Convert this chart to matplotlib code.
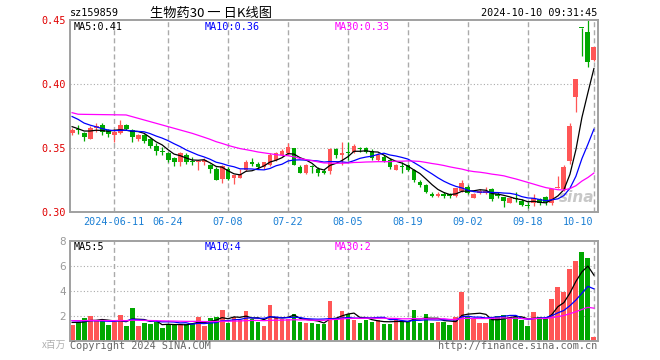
import numpy as np
import pandas as pd
import matplotlib
matplotlib.use('Agg')
import matplotlib.pyplot as plt

code = 'sz159859'
title = '生物药30 一 日K线图'
stamp = '2024-10-10 09:31:45'

# trading days shown (2024-05-30 .. 2024-10-10), exchange holidays removed
holidays = ['2024-06-10', '2024-09-16', '2024-09-17', '2024-10-01', '2024-10-02',
            '2024-10-03', '2024-10-04', '2024-10-07']
tick_dates = ['2024-06-11', '2024-06-24', '2024-07-08', '2024-07-22', '2024-08-05',
              '2024-08-19', '2024-09-02', '2024-09-18', '2024-10-10']
tick_labels = ['2024-06-11', '06-24', '07-08', '07-22', '08-05', '08-19', '09-02', '09-18', '10-10']

opens = [
    0.362, 0.365, 0.362, 0.357, 0.366, 0.368, 0.364, 0.360, 0.362, 0.368,
    0.364, 0.357, 0.360, 0.357, 0.352, 0.348, 0.346, 0.342, 0.339, 0.345,
    0.340, 0.339, 0.339, 0.337, 0.334, 0.326, 0.334, 0.327, 0.327, 0.333,
    0.339, 0.338, 0.335, 0.337, 0.341, 0.345, 0.346, 0.350, 0.335, 0.331,
    0.336, 0.334, 0.332, 0.332, 0.349, 0.345, 0.347, 0.347, 0.350, 0.350,
    0.348, 0.341, 0.343, 0.341, 0.333, 0.336, 0.337, 0.333, 0.324, 0.321,
    0.314, 0.313, 0.314, 0.314, 0.313, 0.317, 0.320, 0.311, 0.315, 0.315,
    0.318, 0.314, 0.312, 0.307, 0.311, 0.309, 0.306, 0.307, 0.310, 0.312,
    0.307, 0.319, 0.318, 0.340, 0.390, 0.444, 0.441, 0.419]
closes = [
    0.364, 0.364, 0.359, 0.366, 0.367, 0.363, 0.361, 0.363, 0.368, 0.365,
    0.359, 0.360, 0.356, 0.352, 0.348, 0.347, 0.341, 0.339, 0.346, 0.339,
    0.339, 0.340, 0.341, 0.334, 0.325, 0.336, 0.326, 0.329, 0.330, 0.339,
    0.338, 0.335, 0.339, 0.345, 0.346, 0.348, 0.351, 0.337, 0.331, 0.337,
    0.335, 0.331, 0.331, 0.349, 0.345, 0.346, 0.346, 0.352, 0.349, 0.347,
    0.342, 0.345, 0.340, 0.335, 0.337, 0.335, 0.333, 0.325, 0.321, 0.316,
    0.313, 0.314, 0.313, 0.313, 0.319, 0.323, 0.315, 0.314, 0.317, 0.317,
    0.310, 0.313, 0.309, 0.311, 0.310, 0.306, 0.305, 0.311, 0.307, 0.308,
    0.318, 0.320, 0.335, 0.367, 0.404, 0.4435, 0.417, 0.429]
highs = [
    0.366, 0.368, 0.363, 0.367, 0.370, 0.370, 0.365, 0.365, 0.372, 0.369,
    0.365, 0.361, 0.361, 0.358, 0.354, 0.351, 0.347, 0.343, 0.347, 0.346,
    0.343, 0.341, 0.342, 0.338, 0.335, 0.337, 0.335, 0.329, 0.334, 0.341,
    0.342, 0.339, 0.339, 0.346, 0.347, 0.349, 0.354, 0.350, 0.337, 0.338,
    0.337, 0.335, 0.334, 0.350, 0.350, 0.355, 0.355, 0.353, 0.351, 0.351,
    0.349, 0.346, 0.345, 0.342, 0.338, 0.339, 0.338, 0.334, 0.325, 0.322,
    0.316, 0.316, 0.316, 0.315, 0.319, 0.325, 0.321, 0.315, 0.318, 0.320,
    0.319, 0.316, 0.312, 0.312, 0.316, 0.310, 0.308, 0.314, 0.311, 0.313,
    0.318, 0.328, 0.337, 0.370, 0.404, 0.444, 0.452, 0.429]
lows = [
    0.360, 0.361, 0.356, 0.357, 0.363, 0.360, 0.359, 0.355, 0.361, 0.364,
    0.355, 0.356, 0.354, 0.350, 0.345, 0.345, 0.339, 0.336, 0.336, 0.338,
    0.337, 0.333, 0.337, 0.331, 0.325, 0.323, 0.325, 0.322, 0.327, 0.332,
    0.336, 0.334, 0.334, 0.336, 0.340, 0.344, 0.345, 0.337, 0.331, 0.330,
    0.331, 0.328, 0.330, 0.330, 0.342, 0.337, 0.341, 0.346, 0.347, 0.346,
    0.341, 0.340, 0.339, 0.334, 0.333, 0.331, 0.332, 0.324, 0.320, 0.315,
    0.312, 0.312, 0.311, 0.311, 0.312, 0.316, 0.314, 0.311, 0.314, 0.314,
    0.309, 0.311, 0.304, 0.307, 0.308, 0.305, 0.303, 0.305, 0.306, 0.306,
    0.306, 0.319, 0.317, 0.338, 0.378, 0.422, 0.413, 0.418]
volumes = [  # millions
    1.24, 1.51, 1.78, 1.99, 1.57, 1.57, 1.24, 1.51, 2.05, 1.16,
    2.64, 1.16, 1.40, 1.33, 1.46, 1.00, 1.30, 1.30, 1.33, 1.33,
    1.43, 1.89, 1.16, 1.78, 1.89, 2.45, 1.43, 1.90, 1.62, 2.37,
    1.70, 1.51, 1.16, 2.85, 1.86, 1.70, 1.70, 2.10, 1.50, 1.43,
    1.43, 1.35, 1.30, 3.17, 1.67, 2.37, 2.10, 1.67, 1.40, 1.67,
    1.50, 1.64, 1.35, 1.35, 1.78, 1.51, 1.51, 2.45, 1.43, 2.10,
    1.43, 1.51, 1.51, 1.24, 1.89, 3.92, 2.00, 1.70, 1.43, 1.43,
    1.78, 1.99, 2.05, 1.90, 1.90, 1.62, 1.19, 2.29, 1.90, 1.72,
    3.33, 4.32, 3.92, 5.72, 6.41, 7.13, 6.65, 0.30]

# 29 sessions before the window, estimated from where the MA lines start
prev_close = [
    0.400, 0.362, 0.368, 0.369, 0.365, 0.363, 0.365, 0.370, 0.367,
    0.398, 0.399, 0.395, 0.391, 0.387, 0.386, 0.380, 0.378, 0.385, 0.378, 0.378,
    0.386, 0.388, 0.382, 0.380, 0.377, 0.372, 0.368, 0.366, 0.364]
prev_volume = [
    1.6, 1.5, 1.7, 1.8, 1.4, 1.6, 1.5, 1.7, 1.6, 1.5,
    1.4, 1.7, 1.6, 1.8, 1.5, 1.6, 1.5, 1.7, 1.6, 1.5,
    1.8, 1.7, 1.9, 1.6, 1.7, 1.5, 1.6, 1.4, 1.5]

RED = '#ff5656'
GREEN = '#00a800'
GRID = '#aaaaaa'
MONO = 'DejaVu Sans Mono'
CJK = ['Noto Sans CJK SC', 'DejaVu Sans']

dates = [d.strftime('%Y-%m-%d') for d in pd.bdate_range('2024-05-30', '2024-10-10')]
dates = [d for d in dates if d not in holidays]
n = len(closes)
x = np.arange(n)
o = np.array(opens); c = np.array(closes); h = np.array(highs); l = np.array(lows)
v = np.array(volumes)
up = c >= o
colors = np.where(up, RED, GREEN)


def moving(prev, cur, k):
    s = pd.Series(list(prev) + list(cur)).rolling(k).mean()
    return s.iloc[len(prev):].to_numpy()


ma_p = {k: moving(prev_close, closes, k) for k in (5, 10, 30)}
ma_v = {k: moving(prev_volume, volumes, k) for k in (5, 10, 30)}
ma_colors = {5: 'black', 10: '#0000ff', 30: '#ff00ff'}

W, H = 660, 360
fig = plt.figure(figsize=(6.6, 3.6), dpi=100)


def fx(px):
    return px / W


def fy(py):
    return 1 - py / H


ax1 = fig.add_axes([fx(70), fy(212.3), fx(527.5), (212.3 - 20) / H])
ax2 = fig.add_axes([fx(70), fy(340.5), fx(527.5), (340.5 - 240.7) / H])
tick_idx = [dates.index(d) for d in tick_dates]

for ax in (ax1, ax2):
    ax.set_xlim(-0.35, n - 0.4)
    for s in ax.spines.values():
        s.set_color('#a0a0a0')
        s.set_linewidth(1.4)
    for t in tick_idx:
        ax.axvline(t, color=GRID, lw=1, ls=(0, (3.6, 2.2)), zorder=0)
    ax.tick_params(length=0)

# price panel
ax1.set_ylim(0.30, 0.45)
for yv in (0.35, 0.40):
    ax1.axhline(yv, color=GRID, lw=0.8, ls=(0, (1, 2)), zorder=0)
ax1.text(0.96, 0.075, 'sina', transform=ax1.transAxes, fontsize=11, fontstyle='italic',
         fontweight='bold', color='#c8c8c8', ha='center', va='center', zorder=0)
ax1.vlines(x, l, h, colors=colors, lw=0.9, zorder=2)
body = np.maximum(np.abs(c - o), 0.0007)
ax1.bar(x, body, bottom=np.minimum(o, c), width=0.82, color=colors, zorder=3)
for k in (5, 10, 30):
    ax1.plot(x, ma_p[k], color=ma_colors[k], lw=0.9, zorder=4)
ax1.set_yticks([0.30, 0.35, 0.40, 0.45])
ax1.set_yticklabels(['0.30', '0.35', '0.40', '0.45'], color='#e00000', family=MONO, fontsize=7.3)
ax1.tick_params(axis='y', pad=3)
ax1.set_xticks(tick_idx)
ax1.set_xticklabels(tick_labels, color='#1a7fd4', family=MONO, fontsize=7.3)
ax1.tick_params(axis='x', pad=3.5)
ax1.get_xticklabels()[-1].set_horizontalalignment('right')

# volume panel
ax2.set_ylim(0, 8)
for yv in (2, 4, 6):
    ax2.axhline(yv, color=GRID, lw=0.8, ls=(0, (1, 2)), zorder=0)
ax2.bar(x, v, width=0.82, color=colors, zorder=2)
for k in (5, 10, 30):
    ax2.plot(x, ma_v[k], color=ma_colors[k], lw=0.9, zorder=3)
ax2.set_yticks([2, 4, 6, 8])
ax2.set_yticklabels(['2', '4', '6', '8'], color='#999999', fontsize=7.5)
ax2.tick_params(axis='y', pad=3)
ax2.set_xticks([])

# labels
fig.text(fx(70), fy(13), code, family=MONO, fontsize=7.3, va='center')
fig.text(fx(150), fy(13), title, family=CJK, fontsize=9.5, va='center')
fig.text(fx(597), fy(13), stamp, family=MONO, fontsize=7.3, va='center', ha='right')

for px, k in ((74, 5), (205, 10), (335, 30)):
    fig.text(fx(px), fy(26.5), 'MA%d:%.2f' % (k, ma_p[k][-1]), family=MONO, fontsize=7.3,
             color=ma_colors[k], va='center')
    # volume MA shown truncated to whole millions
    fig.text(fx(px), fy(247), 'MA%d:%d' % (k, int(ma_v[k][-1])), family=MONO, fontsize=7.3,
             color=ma_colors[k], va='center')

fig.text(fx(66), fy(345), 'x百万', family=CJK, fontsize=7, color='#b0b0b0', va='center', ha='right')
fig.text(fx(70), fy(346), 'Copyright 2024 SINA.COM', family=MONO, fontsize=7.3, color='#666666', va='center')
fig.text(fx(597), fy(346), 'http://finance.sina.com.cn', family=MONO, fontsize=7.3, color='#666666',
         va='center', ha='right')

fig.savefig('out.png', dpi=100)
